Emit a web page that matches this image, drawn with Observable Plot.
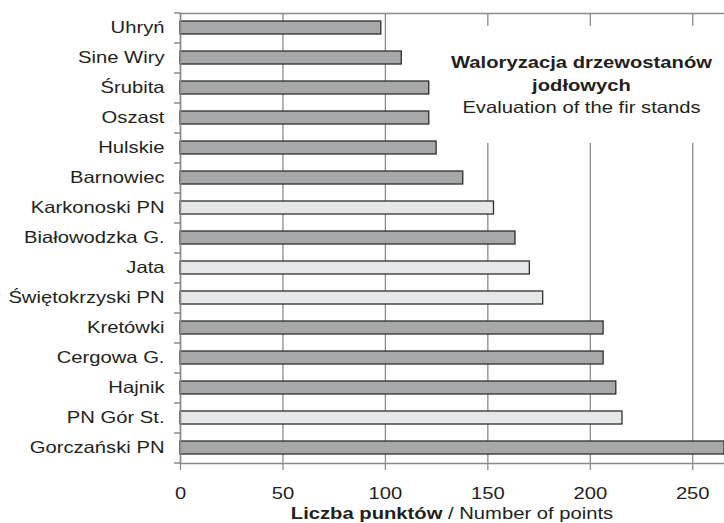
<!DOCTYPE html>
<html><head><meta charset="utf-8">
<script src="https://cdn.jsdelivr.net/npm/d3@7"></script>
<script src="https://cdn.jsdelivr.net/npm/@observablehq/plot@0.6"></script>
<style>body{margin:0;background:#fff} #chart{position:relative;width:724px;height:523px}</style>
</head><body><div id="chart"></div>
<script>
const names = ["Uhryń","Sine Wiry","Śrubita","Oszast","Hulskie","Barnowiec","Karkonoski PN","Białowodzka G.","Jata","Świętokrzyski PN","Kretówki","Cergowa G.","Hajnik","PN Gór St.","Gorczański PN"];
const values = [98,108,121.4,121.4,125,138,153,163.5,170.5,177,206.5,206.5,212.7,215.7,265.5];
const kinds = ["dark","dark","dark","dark","dark","dark","light","dark","light","light","dark","dark","dark","light","dark"];
const xTicks = [0,50,100,150,200,250];
const titleLines = ["Waloryzacja drzewostanów","jodłowych"];
const subtitle = "Evaluation of the fir stands";
const xLabelBold = "Liczba punktów";
const xLabelRest = " / Number of points";

const data = names.map((name,i)=>({name, value: values[i], kind: kinds[i]}));
const gray = "#8a8a8a";
const ink = "#231f20";
const W = 724, H = 523;
const plot = Plot.plot({
  width: W, height: H, marginLeft: 180, marginRight: 0, marginTop: 13, marginBottom: 60,
  style: {fontFamily: "'Liberation Sans', Arial, sans-serif", fontSize: "16.3px", color: ink, background: "#fff"},
  x: {domain: [0, 265.5]},
  y: {domain: names, paddingInner: 0.55, paddingOuter: 0.275},
  color: {domain: ["dark","light"], range: ["#a7a8aa","#e6e7e8"]},
  marks: [
    Plot.gridX(xTicks, {stroke: gray, strokeOpacity: 1, strokeWidth: 1.3}),
    Plot.frame({anchor: "top", stroke: gray, strokeWidth: 1.5}),
    Plot.frame({anchor: "bottom", stroke: gray, strokeWidth: 1.5}),
    Plot.axisX(xTicks, {tickSize: 7, tickPadding: 17, stroke: gray, strokeWidth: 1.3, fill: ink, label: null}),
    Plot.axisY({tickSize: 0, tickPadding: 16, fill: ink, label: null}),
    Plot.axisY({tickSize: 6, tickFormat: () => "", dy: 15, stroke: gray, strokeWidth: 1.5, label: null}),
    Plot.axisY([names[0]], {tickSize: 6, tickFormat: () => "", dy: -15, stroke: gray, strokeWidth: 1.5, label: null}),
    Plot.barX(data, {x: "value", y: "name", fill: "kind", stroke: "#2e2e2e", strokeWidth: 1.3}),
    Plot.frame({anchor: "left", stroke: gray, strokeWidth: 1.5})
  ]
});
document.getElementById("chart").appendChild(plot);
const svg = d3.select(plot);
// white box behind the title, covering the gridlines
svg.append("rect").attr("x", W - 279).attr("y", 26).attr("width", 279).attr("height", 117).attr("fill", "#fff");
const cx = W - 142.5;
const tg = svg.append("g").attr("fill", ink).attr("text-anchor", "middle")
  .style("font-family", "'Liberation Sans', Arial, sans-serif").style("font-size", "16.3px");
titleLines.forEach((t, i) => tg.append("text").attr("x", cx).attr("y", 68.5 + i * 22.3).attr("font-weight", "bold").text(t));
tg.append("text").attr("x", cx).attr("y", 68.5 + 2 * 22.3).text(subtitle);
// x axis label
const xs = plot.scale("x");
const lx = (xs.range[0] + xs.range[1]) / 2;
const lab = tg.append("text").attr("x", lx).attr("y", 519.5);
lab.append("tspan").attr("font-weight", "bold").text(xLabelBold);
lab.append("tspan").text(xLabelRest);
// horizontal stretch of all texts (around their anchor) to match the reference's wide lettering
const stretch = 1.24;
plot.querySelectorAll("text").forEach(el => {
  if (!el.textContent.trim()) return;
  const t = el.getAttribute("transform") || "";
  const ax = parseFloat(el.getAttribute("x")) || 0;
  el.setAttribute("transform", `${t} translate(${ax},0) scale(${stretch},1) translate(${-ax},0)`);
});
</script>
</body></html>
